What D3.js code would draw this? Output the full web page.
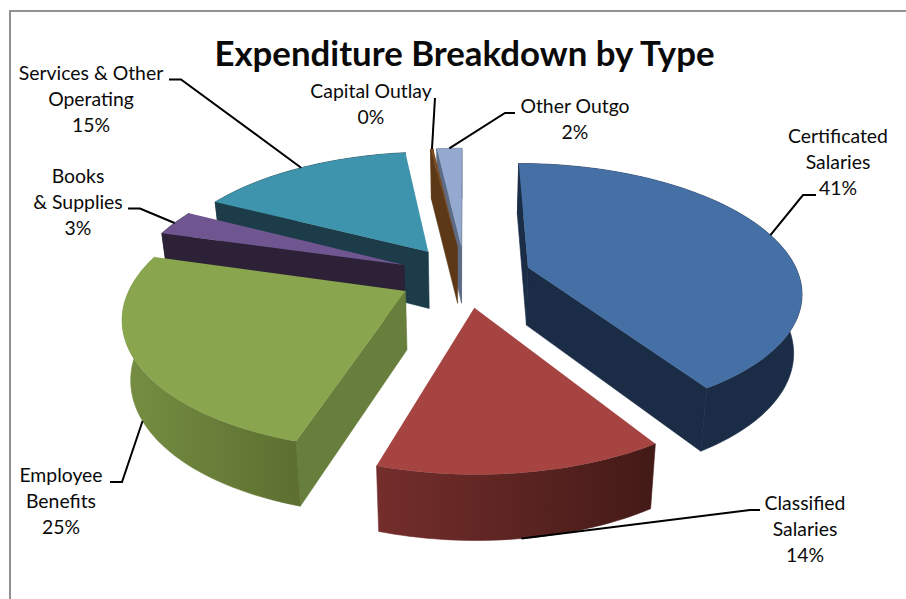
<!DOCTYPE html>
<html>
<head>
<meta charset="utf-8">
<script src="https://cdn.jsdelivr.net/npm/d3@7/dist/d3.min.js"></script>
<style>
  html, body { margin: 0; padding: 0; background: #fff; overflow: hidden; }
  svg { display: block; }
  text { font-family: Lato, "Open Sans", sans-serif; fill: #0a0a0a; }
</style>
</head>
<body>
<svg id="chart" width="906" height="599"></svg>
<script>
// Expenditure shares, in percent, clockwise from twelve o'clock.
const categories = ["Certificated Salaries", "Classified Salaries", "Employee Benefits",
                    "Books & Supplies", "Services & Other Operating", "Capital Outlay", "Other Outgo"];
const values = [41.0, 13.7, 24.7, 3.2, 15.4, 0.2, 1.8];

// How each category name wraps in its data label.
const labelLines = [["Certificated", "Salaries"], ["Classified", "Salaries"], ["Employee", "Benefits"],
                    ["Books", "& Supplies"], ["Services & Other", "Operating"], ["Capital Outlay"], ["Other Outgo"]];

const topColors  = ["#4570a6", "#a64442", "#89a54e", "#6f5690", "#3f94ad", "#7a4a20", "#93a9cf"];
const sideColors = ["#1a2c46", "#5a2422", "#677e3c", "#2c2136", "#1b3c48", "#5c3817", "#5d6b85"];
const wallStops  = [["#1a2c46", "#1a2c46"], ["#742e2c", "#431a17"], ["#768e42", "#5d7031"],
                    ["#2c2136", "#2c2136"], ["#1b3c48", "#1b3c48"], ["#5c3817", "#5c3817"], ["#5d6b85", "#5d6b85"]];

// Label placement: text centre, first baseline, leader elbow, leader end beside the text.
const labelCx    = [838, 805, 61, 78, 91, 371, 575];
const labelY     = [143, 510, 482, 183, 80, 98, 113];
const elbows     = [[803, 195], [750, 510], [122, 482], [140, 208.5], [181, 79.5], [435, 98], [505, 113]];
const leaderEnds = [[816, 195], [760, 510], [110, 482], [128, 208.5], [169, 79.5], [435, 98], [515, 113]];
const anchorOnBase = [false, true, true, false, false, false, false];

// Tilted ground plane with a mild perspective.
const cx = 465, cy = 276, rx = 271, ry = 125, persp = 0.175;
const explode = 0.245, depth = 58, baseShrink = 0.975;

const planeX = d3.scaleLinear().domain([0, 1]).range([0, rx]);
const planeY = d3.scaleLinear().domain([0, 1]).range([0, ry]);

function project(X, Y) {
  const w = 1 - persp * Y;
  return [cx + planeX(X) / w, cy + planeY(Y) / w];
}
function projectBase(X, Y) {
  const [x, y] = project(X, Y);
  return [cx + baseShrink * (x - cx), y + depth * (1 + 0.11 * Y)];
}
const polar = (a, r) => [r * Math.sin(a), -r * Math.cos(a)];

const svg = d3.select("#chart");
const defs = svg.append("defs");
const lineGen = d3.line();

// Chart frame
svg.append("path")
  .attr("d", lineGen([[10, 599], [10, 11], [906, 11]]))
  .attr("fill", "none").attr("stroke", "#919191").attr("stroke-width", 2);

svg.append("text").attr("x", 464.5).attr("y", 66).attr("text-anchor", "middle")
  .attr("font-size", 34.8).attr("font-weight", 700).attr("fill", "#000")
  .text("Expenditure Breakdown by Type");

const pie = d3.pie().sort(null).value(d => d);
const arcs = pie(values);

const slices = arcs.map((a, i) => {
  const mid = (a.startAngle + a.endAngle) / 2;
  const [ox, oy] = polar(mid, explode);
  const steps = Math.max(2, Math.ceil((a.endAngle - a.startAngle) * 40));
  const rim = d3.range(steps + 1).map(s => {
    const t = a.startAngle + (a.endAngle - a.startAngle) * s / steps;
    const [u, v] = polar(t, 1);
    return [ox + u, oy + v];
  });
  return { i, mid, ox, oy, rim };
});

// Far slices are painted first so nearer ones overlap them.
const paintOrder = [6, 5, 4, 3, 2, 1, 0];

paintOrder.forEach(i => {
  const s = slices[i];
  const g = svg.append("g").attr("class", "slice");
  const tipTop = project(s.ox, s.oy), tipBase = projectBase(s.ox, s.oy);
  const rimTop = s.rim.map(p => project(p[0], p[1]));
  const rimBase = s.rim.map(p => projectBase(p[0], p[1]));
  const centre = [d3.mean(rimTop, p => p[0]) * 0.5 + tipTop[0] * 0.5,
                  d3.mean(rimTop, p => p[1]) * 0.5 + tipTop[1] * 0.5];

  // Straight walls show when the slice's interior sits above their top edge
  [[rimTop[0], rimBase[0]], [rimTop[rimTop.length - 1], rimBase[rimBase.length - 1]]].forEach(([t, b]) => {
    const ex = t[0] - tipTop[0], ey = t[1] - tipTop[1];
    const innerSide = ex * (centre[1] - tipTop[1]) - ey * (centre[0] - tipTop[0]);
    if (ex * innerSide < 0) {
      g.append("path").attr("fill", sideColors[i]).attr("stroke", sideColors[i]).attr("stroke-width", 0.6)
        .attr("d", lineGen([tipTop, t, b, tipBase]) + "Z");
    }
  });

  // Outer curved wall with its sideways shading
  const xs = d3.extent(rimTop, p => p[0]);
  const grad = defs.append("linearGradient").attr("id", "wall" + i)
    .attr("gradientUnits", "userSpaceOnUse")
    .attr("x1", xs[0]).attr("x2", xs[1]).attr("y1", 0).attr("y2", 0);
  wallStops[i].forEach((c, k) => grad.append("stop").attr("offset", k).attr("stop-color", c));
  g.append("path").attr("fill", `url(#wall${i})`).attr("stroke", `url(#wall${i})`).attr("stroke-width", 0.6)
    .attr("d", lineGen(rimTop.concat(rimBase.slice().reverse())) + "Z");

  g.append("path").attr("fill", topColors[i])
    .attr("d", lineGen([tipTop].concat(rimTop)) + "Z");
});

// Leader lines and data labels
const pct = d3.format(".0%");
arcs.forEach((a, i) => {
  const s = slices[i];
  const [u, v] = polar(s.mid, 1);
  const anchor = (anchorOnBase[i] ? projectBase : project)(s.ox + u, s.oy + v);
  svg.append("path").attr("fill", "none").attr("stroke", "#000").attr("stroke-width", 2)
    .attr("d", lineGen([anchor, elbows[i], leaderEnds[i]]));

  const text = svg.append("text").attr("text-anchor", "middle").attr("font-size", 19.4);
  labelLines[i].concat(pct(values[i] / 100)).forEach((line, k) => {
    text.append("tspan").attr("x", labelCx[i]).attr("y", labelY[i] + k * 26).text(line);
  });
});
</script>
</body>
</html>
